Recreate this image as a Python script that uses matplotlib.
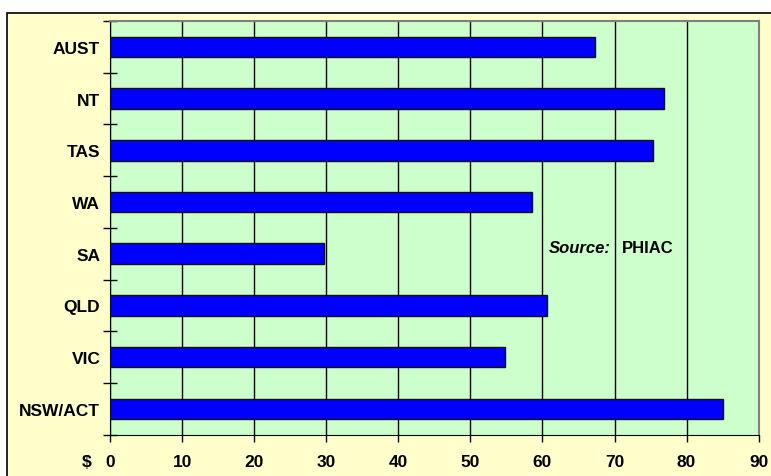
import numpy as np
import matplotlib.pyplot as plt
from matplotlib.patches import Rectangle

plt.rcParams['font.family'] = ['Liberation Sans', 'DejaVu Sans']

states = ["NSW/ACT", "VIC", "QLD", "SA", "WA", "TAS", "NT", "AUST"]
values = [85.0, 54.8, 60.6, 29.7, 58.6, 75.4, 76.9, 67.3]
xticks = [0, 10, 20, 30, 40, 50, 60, 70, 80, 90]

fig = plt.figure(figsize=(7.71, 4.77), dpi=100, facecolor="white")

# pale yellow chart area with black border, kept behind the axes
fig.patches.append(Rectangle((7 / 771, -0.01), 1.0, 1.01 - 14 / 477, transform=fig.transFigure,
                             facecolor="#FFFFCC", edgecolor="black", linewidth=1.2, zorder=-10))

ax = fig.add_axes([110 / 771, 1 - 435.7 / 477, 648.7 / 771, 413.7 / 477])
ax.set_facecolor("#CCFFCC")

y = np.arange(len(states))
ax.barh(y, values, height=0.4, color="#0000FF", edgecolor="#111111", linewidth=1, zorder=3)

ax.set_xlim(0, 90)
ax.set_ylim(-0.5, len(states) - 0.5)
ax.set_xticks(xticks)
ax.set_xticklabels([str(t) for t in xticks], fontsize=12.5, fontweight="bold")
ax.xaxis.grid(True, color="black", linewidth=1)
ax.set_axisbelow(True)

ax.set_yticks(y)
ax.set_yticklabels(states, fontsize=12.5, fontweight="bold")
ax.tick_params(axis="y", which="major", length=0, pad=7)
ax.set_yticks(np.arange(-0.5, len(states)), minor=True)
ax.tick_params(axis="y", which="minor", length=10, direction="inout", width=1)
ax.tick_params(axis="x", length=5, direction="out", width=1, pad=9)

for side in ["top", "right"]:
    ax.spines[side].set_color("#808080")
    ax.spines[side].set_linewidth(1.5)

ax.text(-0.029, -0.065, "$", transform=ax.transAxes, fontsize=12.5, fontweight="bold",
        ha="right", va="center")

ax.text(60.9, 3.12, "Source:", fontsize=12, fontweight="bold", style="italic",
        ha="left", va="center", zorder=4)
ax.text(71.0, 3.12, "PHIAC", fontsize=12, fontweight="bold", ha="left", va="center", zorder=4)

fig.savefig("out.png", dpi=100, facecolor="white")
